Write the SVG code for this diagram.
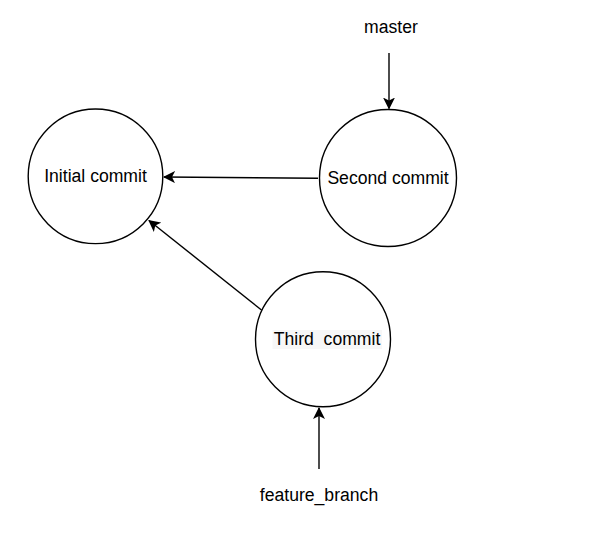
<svg xmlns="http://www.w3.org/2000/svg" width="592" height="546" viewBox="0 0 592 546">
<style>
.node{fill:#fff;stroke:#000;stroke-width:1.4}
.lbl{font-family:"Liberation Sans",Arial,sans-serif;font-size:17.6px;fill:#000;text-anchor:middle}
.edge{stroke:#000;stroke-width:1.4;fill:none}
</style>
<defs>
<marker id="ah" viewBox="0 0 12 12" refX="11" refY="6" markerWidth="12" markerHeight="12" markerUnits="userSpaceOnUse" orient="auto">
<path d="M0,0 L12,6 L0,12 L3,6 Z" fill="#000"/>
</marker>
</defs>
<rect width="592" height="546" fill="#fff"/>
<g id="connectors">
<line class="edge" x1="318" y1="178.3" x2="164" y2="177" marker-end="url(#ah)"/>
<line class="edge" x1="261.5" y1="310" x2="149" y2="220.5" marker-end="url(#ah)"/>
<line class="edge" x1="389" y1="53" x2="389" y2="108.5" marker-end="url(#ah)"/>
<line class="edge" x1="319" y1="469" x2="319" y2="408" marker-end="url(#ah)"/>
</g>
<g id="initial">
<circle class="node" cx="95.5" cy="176.3" r="67.3"/>
<text class="lbl" x="95.5" y="182">Initial commit</text>
</g>
<g id="second">
<circle class="node" cx="388" cy="178" r="68.5"/>
<text class="lbl" x="388" y="184">Second commit</text>
</g>
<g id="third">
<circle class="node" cx="323" cy="339.2" r="67.5"/>
<rect x="272.5" y="330" width="109.5" height="19" fill="#f7f7f7"/>
<text class="lbl" x="327" y="345" xml:space="preserve">Third  commit</text>
</g>
<g id="master">
<text class="lbl" x="391" y="33">master</text>
</g>
<g id="feature_branch">
<text class="lbl" x="319" y="501">feature_branch</text>
</g>
</svg>
